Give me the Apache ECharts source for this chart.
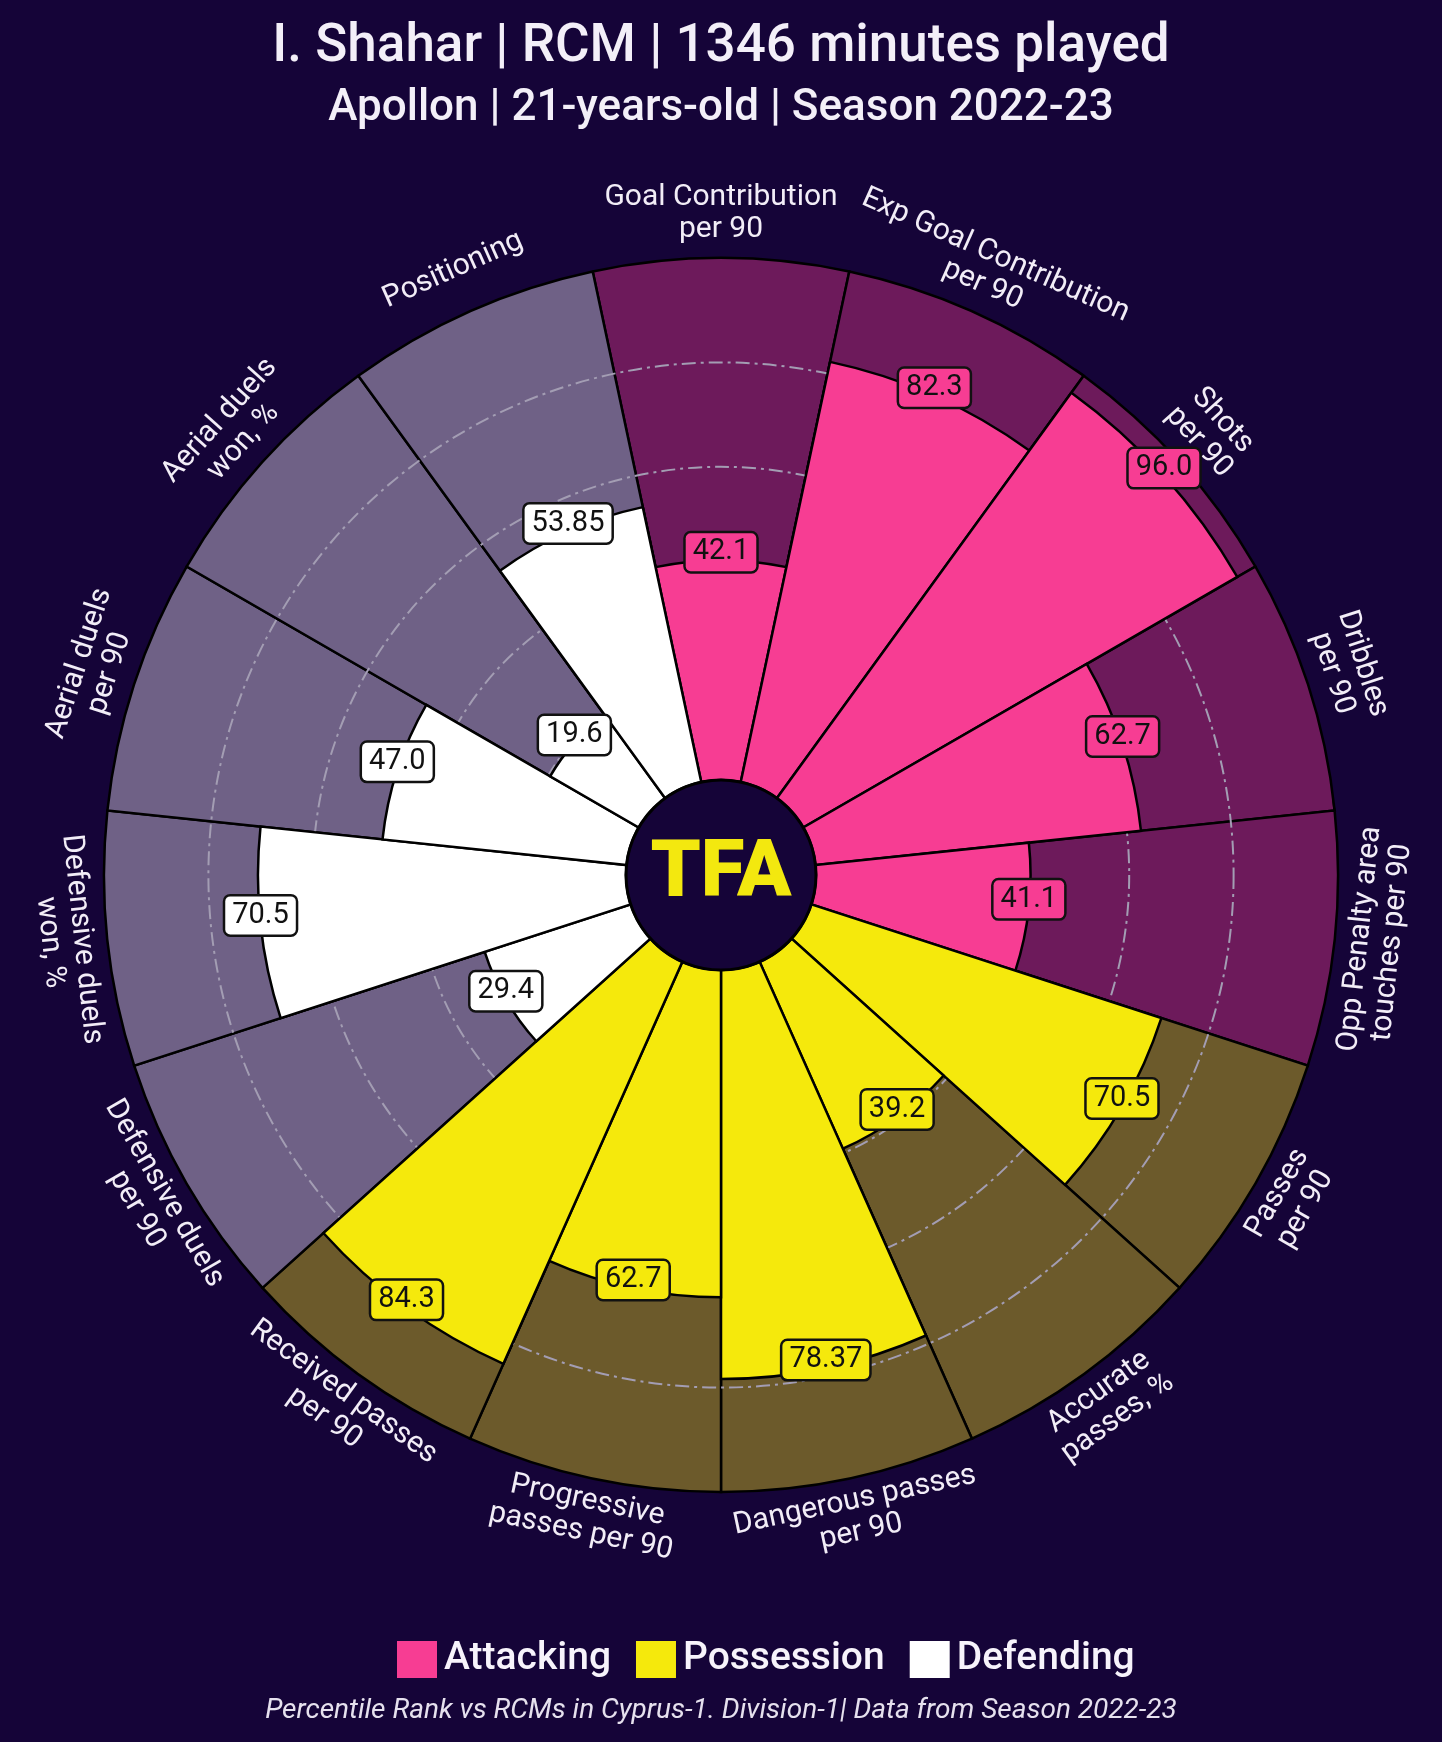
<!DOCTYPE html>
<html><head><meta charset="utf-8">
<script src="https://cdn.jsdelivr.net/npm/echarts@6/dist/echarts.min.js"></script>
<style>html,body{margin:0;padding:0;background:#150438;}#c{width:1442px;height:1742px;}</style>
</head><body><div id="c"></div>
<script>
// ---- data ----
const categories = [
  'Goal Contribution\nper 90',
  'Exp Goal Contribution\nper 90',
  'Shots\nper 90',
  'Dribbles\nper 90',
  'Opp Penalty area\ntouches per 90',
  'Passes\nper 90',
  'Accurate\npasses, %',
  'Dangerous passes\nper 90',
  'Progressive\npasses per 90',
  'Received passes\nper 90',
  'Defensive duels\nper 90',
  'Defensive duels\nwon, %',
  'Aerial duels\nper 90',
  'Aerial duels\nwon, %',
  'Positioning'
];
const values = [42.1, 82.3, 96.0, 62.7, 41.1, 70.5, 39.2, 78.37, 62.7, 84.3, 29.4, 70.5, 47.0, 19.6, 53.85];
const groups = ['Attacking','Attacking','Attacking','Attacking','Attacking',
                'Possession','Possession','Possession','Possession','Possession',
                'Defending','Defending','Defending','Defending','Defending'];
const groupNames = ['Attacking', 'Possession', 'Defending'];
const gridValues = [20, 40, 60, 80];
const maxValue = 100;
const titleText = 'I. Shahar | RCM | 1346 minutes played';
const subtitleText = 'Apollon | 21-years-old | Season 2022-23';
const footerText = 'Percentile Rank vs RCMs in Cyprus-1. Division-1| Data from Season 2022-23';
const logoText = 'TFA';

// ---- style ----
const BG_PAGE = '#150438';
const COLORS = {Attacking: '#f73d93', Possession: '#f5e90c', Defending: '#ffffff'};
const BGCOL = {Attacking: '#6d1a5b', Possession: '#6c5a2b', Defending: '#6f6186'};
const RMIN = -18.2;
const LABEL_R = 108;
const FONT = 'Roboto';

function fmt(v) {
  return Math.abs(v * 10 - Math.round(v * 10)) < 1e-6 ? v.toFixed(1) : v.toFixed(2);
}

const chart = echarts.init(document.getElementById('c'), null, {renderer: 'canvas'});

const series = [];
series.push({
  type: 'bar', coordinateSystem: 'polar', name: 'bg', silent: true, z: 1,
  barGap: '-100%', barCategoryGap: '0%',
  data: categories.map((c, i) => ({value: maxValue, itemStyle: {color: BGCOL[groups[i]]}})),
  itemStyle: {borderColor: '#000', borderWidth: 2.5}
});
series.push({
  type: 'custom', coordinateSystem: 'polar', silent: true, z: 2,
  data: gridValues.map(v => [v, 0]),
  renderItem: function (params, api) {
    const cs = params.coordSys;
    const p = api.coord([api.value(0), 0]);
    const r = Math.hypot(p[0] - cs.cx, p[1] - cs.cy);
    return {type: 'circle', shape: {cx: cs.cx, cy: cs.cy, r: r},
      style: {fill: null, stroke: '#a39db3', lineWidth: 2, lineDash: [14, 5, 3, 5]}};
  }
});
groupNames.forEach(g => {
  series.push({
    type: 'bar', coordinateSystem: 'polar', name: g, z: 3,
    barGap: '-100%', barCategoryGap: '0%',
    data: values.map((v, i) => groups[i] === g ? v : '-'),
    itemStyle: {color: COLORS[g], borderColor: '#000', borderWidth: 2.5}
  });
});
// hub
series.push({
  type: 'custom', coordinateSystem: 'polar', silent: true, z: 4,
  data: [[0, 0]],
  renderItem: function (params, api) {
    const cs = params.coordSys;
    const p = api.coord([0, 0]);
    const r = Math.hypot(p[0] - cs.cx, p[1] - cs.cy);
    return {type: 'group', children: [
      {type: 'circle', shape: {cx: cs.cx, cy: cs.cy, r: r},
        style: {fill: BG_PAGE, stroke: '#000', lineWidth: 3}},
      {type: 'text', x: cs.cx, y: cs.cy + 1,
        style: {text: logoText, fill: '#f3e80f', font: '900 80px ' + FONT,
          align: 'center', verticalAlign: 'middle'}}
    ]};
  }
});
// value labels
series.push({
  type: 'custom', coordinateSystem: 'polar', silent: true, z: 5,
  data: values.map((v, i) => [v, i]),
  renderItem: function (params, api) {
    const v = api.value(0), i = api.value(1);
    const p = api.coord([v, i]);
    return {type: 'text', x: p[0], y: p[1] - 8, z2: 10,
      style: {text: fmt(values[params.dataIndex]), fill: '#111', font: '29px ' + FONT,
        align: 'center', verticalAlign: 'middle',
        backgroundColor: COLORS[groups[params.dataIndex]],
        borderColor: '#111', borderWidth: 2.5, borderRadius: 5, padding: [5, 7, 4, 7]}};
  }
});
// category labels
series.push({
  type: 'custom', coordinateSystem: 'polar', silent: true, z: 5,
  data: categories.map((c, i) => [maxValue, i]),
  renderItem: function (params, api) {
    const cs = params.coordSys;
    const i = api.value(1);
    const p = api.coord([LABEL_R, i]);
    let th = Math.atan2(p[0] - cs.cx, cs.cy - p[1]) * 180 / Math.PI;
    if (th < 0) th += 360;
    let rot = th;
    if (th > 90 && th < 270) rot = th - 180; else if (th >= 270) rot = th - 360;
    return {type: 'text', x: p[0], y: p[1] - 3, rotation: -rot * Math.PI / 180,
      style: {text: categories[params.dataIndex], fill: '#f2edf7', font: '30px ' + FONT,
        align: 'center', verticalAlign: 'middle', lineHeight: 32}};
  }
});

chart.setOption({
  backgroundColor: BG_PAGE,
  animation: false,
  textStyle: {fontFamily: FONT},
  title: [
    {text: titleText, left: 'center', top: 21, padding: 0,
      textStyle: {color: '#f3eff8', fontSize: 53, fontWeight: 500, fontFamily: FONT}},
    {text: subtitleText, left: 'center', top: 87, padding: 0,
      textStyle: {color: '#f3eff8', fontSize: 44, fontWeight: 500, fontFamily: FONT}},
    {text: footerText, left: 'center', top: 1697, padding: 0,
      textStyle: {color: '#e6e1ee', fontSize: 28, fontWeight: 'normal', fontStyle: 'italic', fontFamily: FONT}}
  ],
  legend: {
    data: groupNames, left: 397, top: 1640, padding: 0,
    icon: 'rect', itemWidth: 40, itemHeight: 37, itemGap: 25, selectedMode: false,
    itemStyle: {borderWidth: 0},
    textStyle: {color: '#f7f3fb', fontSize: 39, fontWeight: 500, fontFamily: FONT, padding: [0, 0, 0, 2]}
  },
  polar: {center: [721, 875], radius: 617},
  angleAxis: {
    type: 'category', data: categories, startAngle: 102, clockwise: true,
    axisLine: {show: false}, axisTick: {show: false}, axisLabel: {show: false},
    splitLine: {show: false}, splitArea: {show: false}
  },
  radiusAxis: {
    type: 'value', min: RMIN, max: maxValue,
    axisLine: {show: false}, axisTick: {show: false}, axisLabel: {show: false},
    splitLine: {show: false}, splitArea: {show: false}
  },
  series: series
});
</script></body></html>
